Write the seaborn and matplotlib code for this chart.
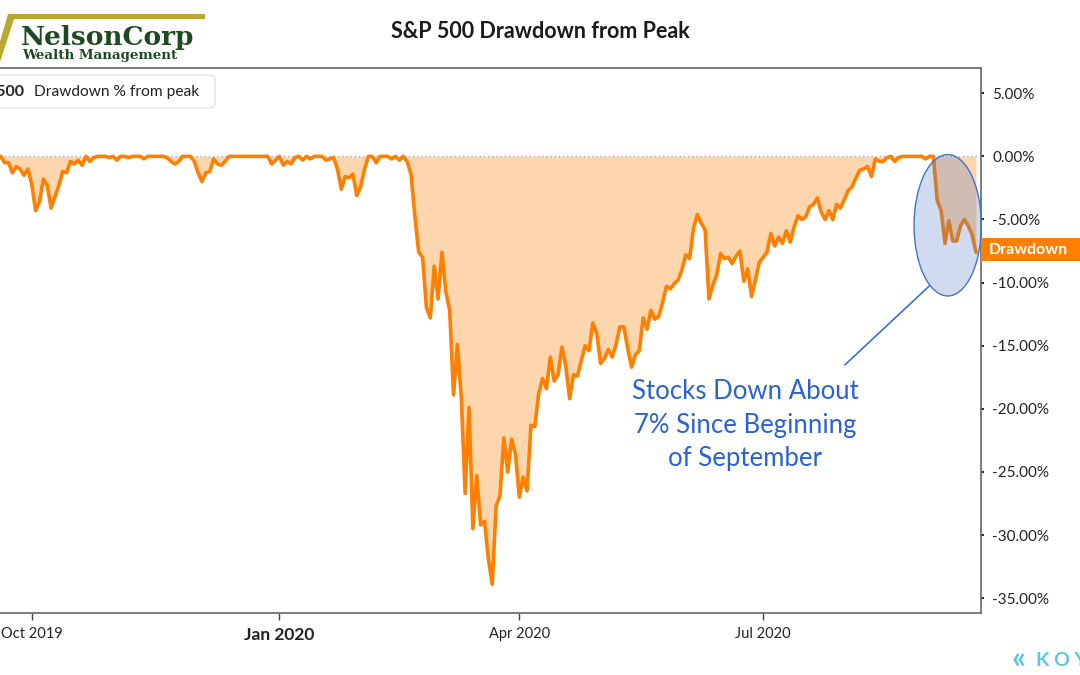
import matplotlib
matplotlib.use("Agg")
import matplotlib.pyplot as plt
import numpy as np
import pandas as pd
import seaborn as sns
from matplotlib.patches import Ellipse, Rectangle, FancyBboxPatch, Polygon
from matplotlib.transforms import blended_transform_factory

sns.set_theme(style="white")
plt.rcParams['font.family'] = ['Lato', 'DejaVu Sans']

# trading days shown on the chart (NYSE holidays removed)
start_date = "2019-09-18"
end_date = "2020-09-18"
holidays = ["2019-11-28", "2019-12-25", "2020-01-01", "2020-01-20", "2020-02-17",
            "2020-04-10", "2020-05-25", "2020-07-03", "2020-09-07"]

# S&P 500 drawdown % from peak
sep19 = [0.0, 0.0, -0.5, -0.5, -1.3, -0.8, -1.0, -1.5, -1.0]
oct19 = [-2.2, -4.3, -3.6, -1.8, -2.3, -4.1, -3.2, -2.3, -1.2, -1.3, -0.4, -0.6,
         -0.3, -0.7, 0.0, -0.4, -0.1, 0.0, 0.0, 0.0, -0.1, 0.0, -0.3]
nov19 = [0.0, 0.0, -0.1, 0.0, 0.0, 0.0, -0.2, 0.0, 0.0, 0.0, 0.0, 0.0, -0.1, -0.4,
         -0.6, -0.4, 0.0, 0.0, 0.0, -0.4]
dec19 = [-1.3, -2.0, -1.3, -1.2, -0.2, -0.6, -0.7, -0.4, 0.0, 0.0, 0.0, 0.0, 0.0,
         0.0, 0.0, 0.0, 0.0, 0.0, 0.0, -0.6, -0.3]
jan20 = [0.0, -0.7, -0.4, -0.6, -0.1, 0.0, -0.3, 0.0, -0.2, 0.0, 0.0, 0.0, -0.3,
         -0.2, -0.1, -1.0, -2.6, -1.6, -1.7, -1.4, -3.1]
feb20 = [-2.4, -1.0, 0.0, 0.0, -0.5, 0.0, 0.0, 0.0, -0.2, 0.0, -0.3, 0.0, -0.4,
         -1.4, -4.7, -7.6, -8.0, -12.0, -12.8]
mar20 = [-8.7, -11.3, -7.6, -10.7, -12.2, -18.9, -14.9, -19.1, -26.7, -19.9, -29.5,
         -25.3, -29.2, -28.9, -31.9, -33.9, -27.7, -26.9, -22.3, -25.0, -22.4, -23.6]
apr20 = [-27.0, -25.4, -26.5, -21.3, -21.4, -18.8, -17.6, -18.4, -15.9, -17.8, -17.3,
         -15.1, -16.6, -19.2, -17.3, -17.4, -16.2, -15.0, -15.4, -13.2, -14.0]
may20 = [-16.4, -16.0, -15.3, -15.9, -14.9, -13.5, -13.5, -15.2, -16.7, -15.7, -15.4,
         -12.8, -13.7, -12.2, -12.9, -12.7, -11.6, -10.3, -10.5, -10.1]
jun20 = [-9.8, -9.0, -7.8, -8.1, -5.7, -4.6, -5.3, -5.8, -11.3, -10.2, -9.4, -7.7,
         -8.1, -8.0, -8.5, -7.9, -7.5, -9.9, -8.9, -11.1, -9.8, -8.4]
jul20 = [-8.0, -7.6, -6.1, -7.1, -6.4, -6.9, -5.9, -6.8, -5.6, -4.7, -5.0, -4.8,
         -4.0, -3.8, -3.3, -4.4, -5.0, -4.3, -5.0, -3.8, -4.1, -3.4]
aug20 = [-2.7, -2.4, -1.7, -1.1, -1.0, -0.8, -1.6, -0.2, -0.4, -0.4, -0.1, 0.0,
         -0.4, -0.1, 0.0, 0.0, 0.0, 0.0, 0.0, 0.0, -0.2]
sep20 = [0.0, 0.0, -3.5, -4.3, -6.9, -5.1, -6.7, -6.7, -5.5, -5.0, -5.5, -6.2, -7.6]

tick_months = ["2019-10", "2020-01", "2020-04", "2020-07"]
tick_labels = ["Oct 2019", "Jan 2020", "Apr 2020", "Jul 2020"]
y_ticks = [5, 0, -5, -10, -15, -20, -25, -30, -35]

drawdown = (sep19 + oct19 + nov19 + dec19 + jan20 + feb20 + mar20 + apr20
            + may20 + jun20 + jul20 + aug20 + sep20)
dates = pd.bdate_range(start_date, end_date).drop(pd.to_datetime(holidays))
df = pd.DataFrame({"date": dates, "drawdown": drawdown})
df["idx"] = np.arange(len(df))  # chart spaces trading days evenly

orange = "#FF8000"
blue_text = "#2962D4"

fig = plt.figure(figsize=(10.8, 6.75), dpi=100)
fig.patch.set_facecolor("white")
ax = fig.add_axes([0.0, 61.7 / 675, 981 / 1080, 545.3 / 675])

ax.fill_between(df["idx"], df["drawdown"], 0, color="#FED6AE", linewidth=0, zorder=1)
ax.axhline(0, color="#aaaaaa", lw=1, ls=(0, (1, 2)), zorder=2)
sns.lineplot(data=df, x="idx", y="drawdown", color=orange, lw=2.6, ax=ax, zorder=3)

ax.set_xlim(0.8, 254.3)
ax.set_ylim(-36.2, 7.0)
ax.set_xlabel("")
ax.set_ylabel("")

# x ticks at the first trading day of each quarter
tick_pos = [df.loc[df["date"].dt.strftime("%Y-%m") == m, "idx"].iloc[0] for m in tick_months]
ax.set_xticks(tick_pos)
ax.set_xticklabels(tick_labels)
for lbl in ax.get_xticklabels():
    lbl.set_fontsize(10.5)
    lbl.set_color("#222222")
    if lbl.get_text() == "Jan 2020":
        lbl.set_fontweight("bold")
        lbl.set_fontsize(12.5)
ax.tick_params(axis="x", bottom=True, length=5, width=1, color="#444444", pad=5)

ax.yaxis.tick_right()
ax.set_yticks(y_ticks)
ax.set_yticklabels([f"{v:.2f}%" for v in y_ticks], fontsize=11, color="#222222")
ax.tick_params(axis="y", right=True, length=2, width=1.5, color="#333333", pad=6)

for side in ["top", "right", "bottom"]:
    ax.spines[side].set_visible(True)
    ax.spines[side].set_color("#666666")
    ax.spines[side].set_linewidth(1.2)
ax.spines["left"].set_visible(False)
ax.grid(False)

# highlight of the September pullback
ax.add_patch(Ellipse((245.7, -5.46), 17.4, 11.2, facecolor=(0.27, 0.45, 0.77, 0.25),
                     edgecolor="#4472C4", lw=1.0, zorder=4, clip_on=False))
ax.plot([240.9, 219.1], [-10.28, -16.53], color="#3A6FD8", lw=1.2, zorder=4)
ax.text(193.3, -21.3, "Stocks Down About\n7% Since Beginning\nof September",
        ha="center", va="center", fontsize=18.5, color=blue_text, linespacing=1.42, zorder=5)

# last-value tag on the right axis
tr = blended_transform_factory(ax.transAxes, ax.transData)
tag_y = -7.4
ax.add_patch(Rectangle((1.0, tag_y - 0.9), 0.2, 1.8, transform=tr, facecolor=orange,
                       edgecolor="none", clip_on=False, zorder=6))
ax.text(1.008, tag_y, "Drawdown", transform=tr, ha="left", va="center", fontsize=11.5,
        fontweight="bold", color="white", zorder=7)

# title
fig.text(0.5, 1 - 32 / 675, "S&P 500 Drawdown from Peak", ha="center", va="center",
         fontsize=15.5, fontweight="bold", color="#1a1a1a")

# legend box (cut at the left edge as in the screenshot)
fig.patches.append(FancyBboxPatch((-20 / 1080, 1 - 108 / 675), 235 / 1080, 33 / 675,
                                  boxstyle="round,pad=0,rounding_size=0.006",
                                  transform=fig.transFigure, facecolor="white",
                                  edgecolor="#e4e4e4", lw=1, zorder=5))
fig.text(24 / 1080, 1 - 92 / 675, "S&P 500", ha="right", va="center", fontsize=11.5,
         fontweight="bold", color="#222222", zorder=6)
fig.text(34 / 1080, 1 - 92 / 675, "Drawdown % from peak", ha="left", va="center",
         fontsize=11.2, color="#222222", zorder=6)

# NelsonCorp logo
gold = "#B8A832"
fig.patches.append(Polygon([(8 / 1080, 1 - 14 / 675), (205 / 1080, 1 - 14 / 675),
                            (205 / 1080, 1 - 19 / 675), (14 / 1080, 1 - 19 / 675),
                            (0 / 1080, 1 - 62 / 675), (-6 / 1080, 1 - 62 / 675)],
                           closed=True, transform=fig.transFigure, facecolor=gold,
                           edgecolor="none"))
fig.text(21 / 1080, 1 - 37 / 675, "NelsonCorp", ha="left", va="center", fontsize=19,
         fontweight="bold", family=["DejaVu Serif"], color="#1E4A22")
fig.text(22 / 1080, 1 - 55 / 675, "Wealth Management", ha="left", va="center",
         fontsize=9.6, fontweight="bold", family=["DejaVu Serif"], color="#1E4A22")

# Koyfin watermark, cut at the right edge
fig.text(1012 / 1080, 1 - 659 / 675, "«", ha="left", va="center", fontsize=22,
         fontweight="bold", color="#5CC6E4")
fig.text(1036 / 1080, 1 - 660 / 675, "K O Y F I N", ha="left", va="center", fontsize=14,
         fontweight="bold", color="#5CC6E4")

fig.savefig("out.png", dpi=100, facecolor="white")
